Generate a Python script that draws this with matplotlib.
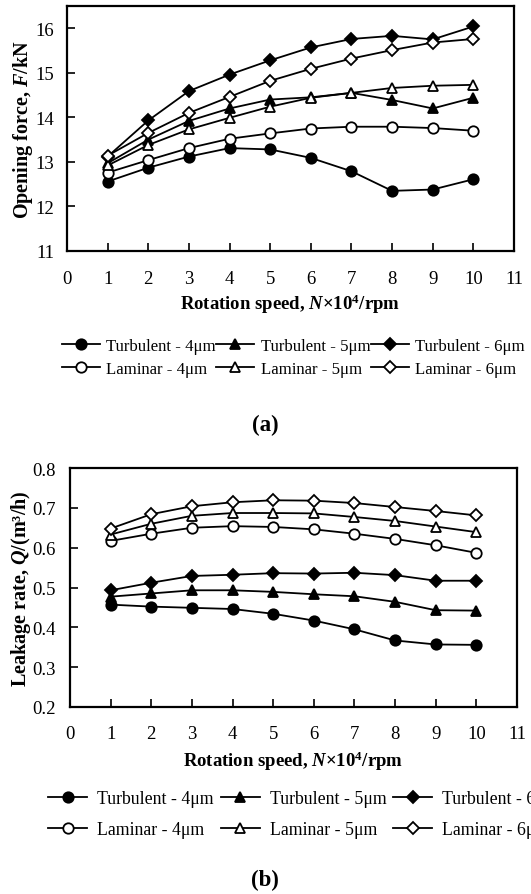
import matplotlib
matplotlib.use('Agg')
import matplotlib.pyplot as plt

plt.rcParams['font.family'] = ['Liberation Serif', 'DejaVu Serif']
plt.rcParams['mathtext.fontset'] = 'custom'
plt.rcParams['mathtext.it'] = 'Liberation Serif:italic:bold'
plt.rcParams['mathtext.rm'] = 'Liberation Serif:bold'
plt.rcParams['mathtext.bf'] = 'Liberation Serif:bold'

speed = [1, 2, 3, 4, 5, 6, 7, 8, 9, 10]

# (a) opening force, kN
force_turb_4 = [12.56, 12.87, 13.12, 13.31, 13.28, 13.09, 12.79, 12.35, 12.38, 12.61]
force_turb_5 = [12.97, 13.50, 13.92, 14.20, 14.40, 14.45, 14.55, 14.39, 14.20, 14.44]
force_turb_6 = [13.12, 13.93, 14.59, 14.96, 15.28, 15.57, 15.76, 15.83, 15.75, 16.04]
force_lam_4 = [12.76, 13.04, 13.31, 13.52, 13.64, 13.75, 13.79, 13.79, 13.76, 13.70]
force_lam_5 = [12.92, 13.38, 13.73, 13.99, 14.24, 14.44, 14.55, 14.66, 14.71, 14.73]
force_lam_6 = [13.14, 13.65, 14.10, 14.46, 14.82, 15.09, 15.32, 15.51, 15.68, 15.76]

# (b) leakage rate, m3/h
leak_turb_4 = [0.457, 0.452, 0.449, 0.446, 0.434, 0.417, 0.395, 0.367, 0.357, 0.356]
leak_turb_5 = [0.477, 0.485, 0.493, 0.493, 0.489, 0.483, 0.478, 0.464, 0.443, 0.442]
leak_turb_6 = [0.493, 0.512, 0.529, 0.532, 0.536, 0.535, 0.537, 0.531, 0.517, 0.517]
leak_lam_4 = [0.617, 0.635, 0.650, 0.654, 0.652, 0.646, 0.635, 0.622, 0.606, 0.587]
leak_lam_5 = [0.633, 0.660, 0.680, 0.687, 0.687, 0.686, 0.677, 0.667, 0.653, 0.639]
leak_lam_6 = [0.648, 0.684, 0.704, 0.714, 0.719, 0.718, 0.712, 0.702, 0.692, 0.681]

names = ['Turbulent - 4μm', 'Turbulent - 5μm', 'Turbulent - 6μm',
         'Laminar - 4μm', 'Laminar - 5μm', 'Laminar - 6μm']
markers = ['o', '^', 'D', 'o', '^', 'D']
faces = ['black', 'black', 'black', 'white', 'white', 'white']
msizes = [7.5, 7.5, 6, 7.5, 7.5, 6]

W, H = 531, 895
fig = plt.figure(figsize=(W / 100, H / 100), dpi=100)


def axes_px(left, top, right, bottom):
    return fig.add_axes([left / W, 1 - bottom / H, (right - left) / W, (bottom - top) / H])


def draw(ax, series, ylim, yticks, ylabel, xpad, ypad):
    handles = []
    for y, name, m, fc, ms in zip(series, names, markers, faces, msizes):
        h, = ax.plot(speed, y, color='black', lw=1.3, marker=m, ms=ms,
                     mfc=fc, mec='black', mew=1.3, label=name)
        handles.append(h)
    ax.set_xlim(0, 11)
    ax.set_ylim(*ylim)
    ax.set_xticks(range(0, 12))
    ax.set_yticks(yticks)
    ax.tick_params(direction='in', length=6, width=1.2, labelsize=13.5)
    ax.tick_params(axis='x', pad=xpad)
    ax.tick_params(axis='y', pad=ypad)
    for s in ax.spines.values():
        s.set_linewidth(1.6)
    ax.set_ylabel(ylabel, fontsize=14.5, fontweight='bold')
    ax.set_xlabel('Rotation speed, $N$×10$^4$/rpm', fontsize=13.5, fontweight='bold')
    return handles


order = [0, 3, 1, 4, 2, 5]

# panel (a)
ax1 = axes_px(67, 7, 514, 252)
h1 = draw(ax1, [force_turb_4, force_turb_5, force_turb_6, force_lam_4, force_lam_5, force_lam_6],
          (11, 16.5), [11, 12, 13, 14, 15, 16], 'Opening force, $F$/kN', 14, 9)
ax1.set_yticklabels(['11', '12', '13', '14', '15', '16'])
ax1.xaxis.labelpad = 3
ax1.yaxis.labelpad = 0.5
fig.legend([h1[i] for i in order], [names[i] for i in order], ncol=3, frameon=False,
           loc='center left', bbox_to_anchor=(62 / W, 1 - 358.5 / H), fontsize=12.1,
           handlelength=2.26, handletextpad=0.36, columnspacing=0.05, labelspacing=0.45,
           borderaxespad=0, borderpad=0)
fig.text(265 / W, 1 - 425 / H, '(a)', ha='center', va='center', fontsize=16.5, fontweight='bold')

# panel (b)
ax2 = axes_px(70, 469, 517, 708)
h2 = draw(ax2, [leak_turb_4, leak_turb_5, leak_turb_6, leak_lam_4, leak_lam_5, leak_lam_6],
          (0.2, 0.8), [0.2, 0.3, 0.4, 0.5, 0.6, 0.7, 0.8], 'Leakage rate, $Q$/(m³/h)', 13, 10)
ax2.set_yticklabels(['0.2', '0.3', '0.4', '0.5', '0.6', '0.7', '0.8'])
ax2.xaxis.labelpad = 5
ax2.yaxis.labelpad = 0
fig.legend([h2[i] for i in order], [names[i] for i in order], ncol=3, frameon=False,
           loc='center left', bbox_to_anchor=(48 / W, 1 - 815 / H), fontsize=12.8,
           handlelength=2.2, handletextpad=0.55, columnspacing=0.4, labelspacing=0.8,
           borderaxespad=0, borderpad=0)
fig.text(265 / W, 1 - 880 / H, '(b)', ha='center', va='center', fontsize=16.5, fontweight='bold')

fig.savefig('out.png', dpi=100)
